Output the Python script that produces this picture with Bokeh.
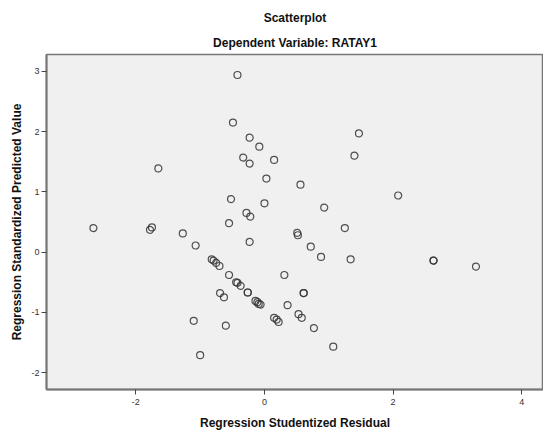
from bokeh.plotting import figure
from bokeh.models import Range1d, Title, FixedTicker, ColumnDataSource
from bokeh.embed import file_html
from bokeh.resources import INLINE

# Regression studentized residual (x) and standardized predicted value (y)
resid = [-0.42, -0.49, -0.23, -0.08, -0.33, -0.23, 0.15, -1.65, 0.03, -0.52,
         0.00, -0.28, -0.22, 1.47, 1.40, 0.56, 2.08, 0.93,
         -2.66, -1.78, -1.75, -1.27, -1.07, -0.55, -0.23,
         -0.82, -0.79, -0.75, -0.70, -0.55, -0.44, -0.42, -0.37,
         -0.26, -0.26, -0.69, -0.63, -0.14, -0.11, -0.09, -0.06,
         0.31, 0.36, 0.15, 0.19, 0.22, -1.10, -0.60, -1.00,
         1.25, 0.51, 0.52, 0.72, 0.88, 1.34, 2.63, 2.63, 3.29,
         0.61, 0.61, 0.53, 0.58, 0.77, 1.07]
pred = [2.94, 2.15, 1.90, 1.75, 1.57, 1.47, 1.53, 1.39, 1.22, 0.88,
        0.81, 0.65, 0.59, 1.97, 1.60, 1.12, 0.94, 0.74,
        0.40, 0.37, 0.41, 0.31, 0.11, 0.48, 0.17,
        -0.12, -0.14, -0.18, -0.23, -0.38, -0.50, -0.51, -0.56,
        -0.67, -0.67, -0.68, -0.75, -0.81, -0.83, -0.86, -0.87,
        -0.38, -0.88, -1.09, -1.12, -1.16, -1.14, -1.22, -1.71,
        0.40, 0.32, 0.28, 0.09, -0.08, -0.12, -0.14, -0.14, -0.24,
        -0.68, -0.68, -1.03, -1.09, -1.26, -1.57]

x_ticks = [-2, 0, 2, 4]
x_tick_labels = ["-2", "0", "2", "4"]
y_ticks = [-2, -1, 0, 1, 2, 3]
y_tick_labels = ["-2", "-1", "0", "1", "2", "3"]

FONT = "Liberation Sans"

p = figure(width=543, height=432, output_backend="svg", toolbar_location=None,
           x_range=Range1d(-3.39, 4.34), y_range=Range1d(-2.28, 3.28),
           title=None, min_border_left=46, min_border_right=0,
           min_border_top=54, min_border_bottom=43)

p.add_layout(Title(text="Dependent Variable: RATAY1", align="center",
                   text_font=FONT, text_font_size="12px", text_font_style="bold",
                   text_color="#111111", standoff=9), "above")
p.add_layout(Title(text="Scatterplot", align="center",
                   text_font=FONT, text_font_size="12px", text_font_style="bold",
                   text_color="#111111", standoff=9), "above")

p.background_fill_color = "#f0f0f0"
p.border_fill_color = "white"
p.outline_line_color = "#777777"
p.outline_line_width = 1.5
p.grid.visible = False

p.xaxis.ticker = FixedTicker(ticks=x_ticks)
p.yaxis.ticker = FixedTicker(ticks=y_ticks)
p.xaxis.major_label_overrides = dict(zip(x_ticks, x_tick_labels))
p.yaxis.major_label_overrides = dict(zip(y_ticks, y_tick_labels))
for ax in (p.xaxis, p.yaxis):
    ax.axis_line_color = "#777777"
    ax.axis_line_width = 2
    ax.major_tick_line_color = "#444444"
    ax.major_tick_out = 5
    ax.major_tick_in = 0
    ax.minor_tick_line_color = None
    ax.major_label_text_font = FONT
    ax.major_label_text_font_size = "9px"
    ax.major_label_text_color = "#333333"
    ax.axis_label_text_font = FONT
    ax.axis_label_text_font_size = "12px"
    ax.axis_label_text_font_style = "bold"
    ax.axis_label_text_color = "#111111"

p.xaxis.axis_label = "Regression Studentized Residual"
p.yaxis.axis_label = "Regression Standardized Predicted Value"
p.xaxis.major_label_standoff = 4
p.yaxis.major_label_standoff = 2
p.xaxis.axis_label_standoff = 8
p.yaxis.axis_label_standoff = 4

src = ColumnDataSource(dict(x=resid, y=pred))
p.scatter("x", "y", source=src, size=7, marker="circle", fill_color=None,
          line_color="#333333", line_width=1.2, line_alpha=0.85)

open("out.html", "w").write(file_html(p, INLINE))
